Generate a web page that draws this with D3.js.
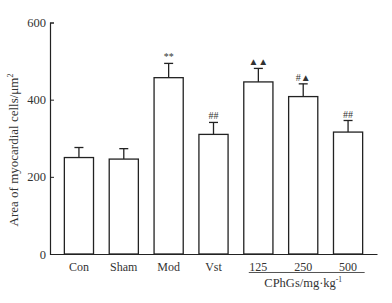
<!DOCTYPE html>
<html>
<head>
<meta charset="utf-8">
<script src="https://cdn.jsdelivr.net/npm/d3@7"></script>
<style>
  body { margin: 0; background: #fff; }
  svg { display: block; font-family: "Liberation Serif", "DejaVu Serif", serif; }
</style>
</head>
<body>
<div id="chart"></div>
<script>
// data
var groups = ["Con", "Sham", "Mod", "Vst", "125", "250", "500"];
var means  = [250, 246, 457, 310, 446, 408, 316];
var errors = [26, 27, 37, 31, 35, 33, 30];
var marks  = ["", "", "**", "##", "\u25B2\u25B2", "#\u25B2", "##"];
var yTicks = [0, 200, 400, 600];

var width = 392, height = 303;
var margin = {top: 22.5, right: 15, bottom: 49, left: 50};
var w = width - margin.left - margin.right;
var h = height - margin.top - margin.bottom;

var svg = d3.select("#chart").append("svg")
    .attr("width", width)
    .attr("height", height);

var g = svg.append("g")
    .attr("transform", "translate(" + margin.left + "," + margin.top + ")");

var x = d3.scaleBand().domain(groups).range([0, w])
    .paddingInner(0.35).paddingOuter(0.32);
var y = d3.scaleLinear().domain([0, 600]).range([h, 0]);

var ink = "#222";

// bars
g.selectAll("rect.bar")
    .data(groups)
    .enter().append("rect")
    .attr("class", "bar")
    .attr("x", function(d) { return x(d); })
    .attr("y", function(d, i) { return y(means[i]); })
    .attr("width", x.bandwidth())
    .attr("height", function(d, i) { return h - y(means[i]); })
    .attr("fill", "#fff")
    .attr("stroke", ink)
    .attr("stroke-width", 1.3);

// error bars
var eb = g.selectAll("g.err")
    .data(groups)
    .enter().append("g")
    .attr("class", "err")
    .attr("transform", function(d) { return "translate(" + (x(d) + x.bandwidth() / 2) + ",0)"; });
eb.append("line")
    .attr("y1", function(d, i) { return y(means[i]); })
    .attr("y2", function(d, i) { return y(means[i] + errors[i]); })
    .attr("stroke", ink).attr("stroke-width", 1.3);
eb.append("line")
    .attr("x1", -4.5).attr("x2", 4.5)
    .attr("y1", function(d, i) { return y(means[i] + errors[i]); })
    .attr("y2", function(d, i) { return y(means[i] + errors[i]); })
    .attr("stroke", ink).attr("stroke-width", 1.3);
eb.append("text")
    .attr("y", function(d, i) { return y(means[i] + errors[i]) - 3; })
    .attr("text-anchor", "middle")
    .attr("font-size", 10)
    .attr("fill", "#333")
    .text(function(d, i) { return marks[i]; });

// axes
var yAxis = g.append("g")
    .call(d3.axisLeft(y).tickValues(yTicks).tickSize(-4).tickPadding(4));
yAxis.select(".domain").attr("stroke", ink).attr("stroke-width", 1.2);
yAxis.selectAll(".tick line").attr("stroke", ink);
yAxis.selectAll("text")
    .attr("font-family", "Liberation Serif, serif")
    .attr("font-size", 12.5).attr("fill", "#333");

var xAxis = g.append("g")
    .attr("transform", "translate(0," + h + ")")
    .call(d3.axisBottom(x).tickSize(0).tickPadding(8).tickSizeOuter(0));
xAxis.select(".domain").attr("stroke", ink).attr("stroke-width", 1.2);
xAxis.selectAll("text")
    .attr("font-family", "Liberation Serif, serif")
    .attr("font-size", 12).attr("fill", "#333");

// dose group bracket
var x0 = x("125") + 5, x1 = x("500") + x.bandwidth() + 2;
g.append("line")
    .attr("x1", x0).attr("x2", x1)
    .attr("y1", h + 18.5).attr("y2", h + 18.5)
    .attr("stroke", "#555").attr("stroke-width", 1.2);
var sub = g.append("text")
    .attr("x", (x("250") + x.bandwidth() / 2))
    .attr("y", h + 33)
    .attr("text-anchor", "middle")
    .attr("font-size", 12.5)
    .attr("fill", "#333");
sub.append("tspan").text("CPhGs/mg\u00B7kg");
sub.append("tspan").attr("dy", -5).attr("font-size", 7.5).text("-1");

// y label
var yl = svg.append("text")
    .attr("transform", "translate(18,150) rotate(-90)")
    .attr("text-anchor", "middle")
    .attr("font-size", 13)
    .attr("fill", "#333");
yl.append("tspan").text("Area of myocardial cells/\u03BCm");
yl.append("tspan").attr("dy", -5).attr("font-size", 8).text("2");
</script>
</body>
</html>
